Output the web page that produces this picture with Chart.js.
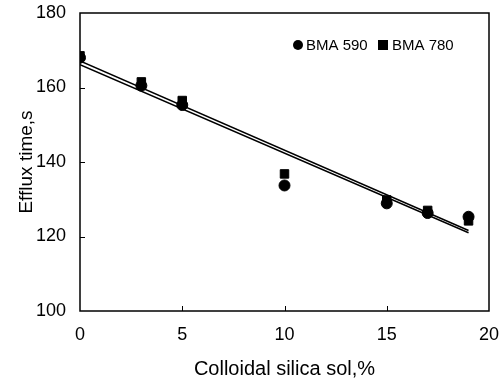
<!DOCTYPE html>
<html>
<head>
<meta charset="utf-8">
<script src="https://cdn.jsdelivr.net/npm/chart.js@4.4.0/dist/chart.umd.min.js"></script>
<style>
  html, body { margin: 0; padding: 0; background: #fff; }
  #wrap { width: 503px; height: 385px; }
</style>
</head>
<body>
<div id="wrap"><canvas id="effluxChart"></canvas></div>
<script>
// data
const silicaPct = [0, 3, 5, 10, 15, 17, 19];
const bma590 = [168, 160.5, 155.3, 133.7, 128.9, 126.3, 125.3];
const bma780 = [168.5, 161.5, 156.5, 136.8, 129.8, 127, 124.2];
const fitX = [0, 19];
const fit590 = [166.1, 121.0];
const fit780 = [167.1, 121.6];
const yTicks = [100, 120, 140, 160, 180];
const xTicks = [0, 5, 10, 15, 20];

const pts = (xs, ys) => xs.map((x, i) => ({ x: x, y: ys[i] }));
const FONT = '"Liberation Sans", Arial, sans-serif';

// frame on top/right, inward ticks, legend inside the plot
const framePlugin = {
  id: 'frame',
  afterDraw(chart) {
    const { ctx, chartArea: a, scales: { x, y } } = chart;
    ctx.save();
    ctx.strokeStyle = '#000';
    ctx.lineWidth = 1.5;
    ctx.strokeRect(a.left, a.top, a.right - a.left, a.bottom - a.top);
    ctx.lineWidth = 1;
    yTicks.slice(1, -1).forEach(v => {
      const py = Math.round(y.getPixelForValue(v)) + 0.5;
      ctx.beginPath(); ctx.moveTo(a.left, py); ctx.lineTo(a.left + 5, py); ctx.stroke();
    });
    xTicks.slice(1, -1).forEach(v => {
      const px = Math.round(x.getPixelForValue(v)) + 0.5;
      ctx.beginPath(); ctx.moveTo(px, a.bottom); ctx.lineTo(px, a.bottom - 5); ctx.stroke();
    });

    // legend
    ctx.fillStyle = '#000';
    ctx.font = '15px ' + FONT;
    ctx.textBaseline = 'middle';
    const ly = 45;
    ctx.beginPath(); ctx.arc(298, ly, 5, 0, Math.PI * 2); ctx.fill();
    ctx.fillText(chart.data.datasets[0].label, 306, ly + 1);
    ctx.fillRect(378, ly - 5, 10, 10);
    ctx.fillText(chart.data.datasets[1].label, 392, ly + 1);
    ctx.restore();
  }
};

new Chart(document.getElementById('effluxChart'), {
  type: 'scatter',
  data: {
    datasets: [
      {
        label: 'BMA 590',
        data: pts(silicaPct, bma590),
        pointStyle: 'circle',
        pointRadius: 5.5,
        backgroundColor: '#000',
        borderColor: '#000'
      },
      {
        label: 'BMA 780',
        data: pts(silicaPct, bma780),
        pointStyle: 'rect',
        pointRadius: 6,
        backgroundColor: '#000',
        borderColor: '#000'
      },
      {
        label: 'fit 590',
        data: pts(fitX, fit590),
        showLine: true,
        pointRadius: 0,
        borderColor: '#000',
        borderWidth: 1.5
      },
      {
        label: 'fit 780',
        data: pts(fitX, fit780),
        showLine: true,
        pointRadius: 0,
        borderColor: '#000',
        borderWidth: 1.5
      }
    ]
  },
  options: {
    responsive: true,
    maintainAspectRatio: false,
    animation: false,
    layout: { padding: { top: 13, right: 14, left: 0, bottom: 0 } },
    plugins: { legend: { display: false }, tooltip: { enabled: false } },
    scales: {
      x: {
        type: 'linear',
        min: 0, max: 20,
        afterBuildTicks: s => { s.ticks = xTicks.map(v => ({ value: v })); },
        afterFit: s => { s.height = 74; s.paddingLeft = 0; s.paddingRight = 0; },
        grid: { display: false, drawTicks: false },
        border: { display: false },
        ticks: {
          color: '#000',
          padding: 13,
          font: { family: FONT, size: 18 }
        },
        title: {
          display: true,
          text: 'Colloidal silica sol,%',
          color: '#000',
          padding: { top: 0, bottom: 4 },
          font: { family: FONT, size: 20 }
        }
      },
      y: {
        min: 100, max: 180,
        afterBuildTicks: s => { s.ticks = yTicks.map(v => ({ value: v })); },
        afterFit: s => { s.width = 80; s.paddingTop = 0; s.paddingBottom = 0; },
        grid: { display: false, drawTicks: false },
        border: { display: false },
        ticks: {
          color: '#000',
          padding: 14,
          font: { family: FONT, size: 18 }
        },
        title: {
          display: true,
          text: 'Efflux time,s',
          color: '#000',
          padding: { top: 15, bottom: 0 },
          font: { family: FONT, size: 19 }
        }
      }
    }
  },
  plugins: [framePlugin]
});
</script>
</body>
</html>
